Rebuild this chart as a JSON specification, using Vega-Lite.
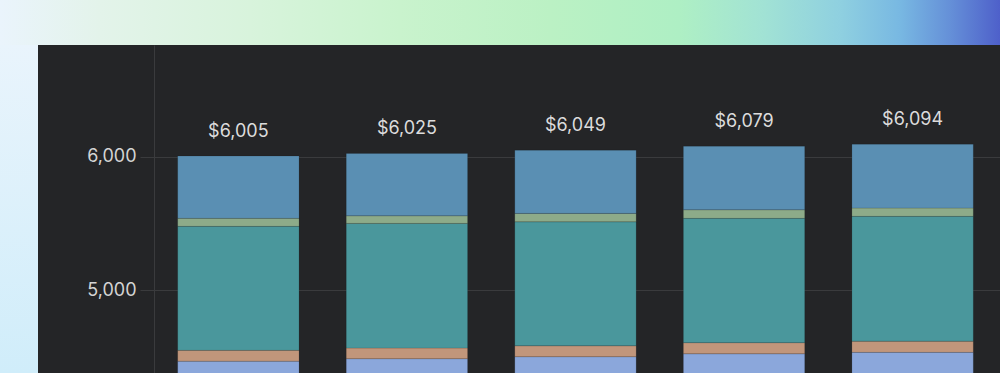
{
  "$schema": "https://vega.github.io/schema/vega-lite/v6.json",
  "background": "#242527",
  "padding": 0,
  "bounds": "flush",
  "spacing": 0,
  "config": {"view": {"stroke": null}, "font": "Inter"},
  "datasets": {
    "costs": [
      {"period": "P1", "segment": "E", "stack_order": 1, "value": 4467},
      {"period": "P1", "segment": "D", "stack_order": 2, "value": 81},
      {"period": "P1", "segment": "C", "stack_order": 3, "value": 930},
      {"period": "P1", "segment": "B", "stack_order": 4, "value": 60},
      {"period": "P1", "segment": "A", "stack_order": 5, "value": 467},
      {"period": "P2", "segment": "E", "stack_order": 1, "value": 4485},
      {"period": "P2", "segment": "D", "stack_order": 2, "value": 80},
      {"period": "P2", "segment": "C", "stack_order": 3, "value": 935},
      {"period": "P2", "segment": "B", "stack_order": 4, "value": 57},
      {"period": "P2", "segment": "A", "stack_order": 5, "value": 468},
      {"period": "P3", "segment": "E", "stack_order": 1, "value": 4500},
      {"period": "P3", "segment": "D", "stack_order": 2, "value": 82},
      {"period": "P3", "segment": "C", "stack_order": 3, "value": 930},
      {"period": "P3", "segment": "B", "stack_order": 4, "value": 63},
      {"period": "P3", "segment": "A", "stack_order": 5, "value": 474},
      {"period": "P4", "segment": "E", "stack_order": 1, "value": 4522},
      {"period": "P4", "segment": "D", "stack_order": 2, "value": 83},
      {"period": "P4", "segment": "C", "stack_order": 3, "value": 933},
      {"period": "P4", "segment": "B", "stack_order": 4, "value": 64},
      {"period": "P4", "segment": "A", "stack_order": 5, "value": 477},
      {"period": "P5", "segment": "E", "stack_order": 1, "value": 4533},
      {"period": "P5", "segment": "D", "stack_order": 2, "value": 84},
      {"period": "P5", "segment": "C", "stack_order": 3, "value": 936},
      {"period": "P5", "segment": "B", "stack_order": 4, "value": 62},
      {"period": "P5", "segment": "A", "stack_order": 5, "value": 479}
    ]
  },
  "vconcat": [
    {
      "width": 1000,
      "height": 45,
      "data": {"values": [{}]},
      "mark": {
        "type": "rect",
        "strokeWidth": 0,
        "color": {
          "gradient": "linear", "x1": 0, "y1": 0, "x2": 1, "y2": 0,
          "stops": [
            {"offset": 0, "color": "#eaf4fc"},
            {"offset": 0.1, "color": "#e3f3ea"},
            {"offset": 0.25, "color": "#d8f3dc"},
            {"offset": 0.4, "color": "#c9f3cd"},
            {"offset": 0.55, "color": "#bbf1c4"},
            {"offset": 0.68, "color": "#aeefc4"},
            {"offset": 0.76, "color": "#a2e3d4"},
            {"offset": 0.84, "color": "#8fd0e0"},
            {"offset": 0.9, "color": "#78b8e2"},
            {"offset": 0.95, "color": "#6590d8"},
            {"offset": 1, "color": "#4e60ca"}
          ]
        }
      },
      "encoding": {}
    },
    {
      "spacing": 116,
      "bounds": "flush",
      "hconcat": [
        {
          "width": 38,
          "height": 328,
          "data": {"values": [{}]},
          "mark": {
            "type": "rect",
            "strokeWidth": 0,
            "color": {
              "gradient": "linear", "x1": 0, "y1": 0, "x2": 0, "y2": 1,
              "stops": [
                {"offset": 0, "color": "#e9f4fc"},
                {"offset": 1, "color": "#d0edfa"}
              ]
            }
          },
          "encoding": {}
        },
        {
          "width": 846,
          "height": 328,
          "data": {"name": "costs"},
          "layer": [
            {
              "mark": {"type": "bar", "clip": true, "stroke": "#000000", "strokeOpacity": 0.12, "strokeWidth": 1},
              "encoding": {
                "x": {
                  "field": "period", "type": "nominal", "axis": null,
                  "scale": {"paddingInner": 0.28, "paddingOuter": 0.1495, "align": 0.47}
                },
                "y": {
                  "field": "value", "type": "quantitative", "stack": "zero",
                  "scale": {"domain": [4378, 6838], "nice": false, "zero": false},
                  "axis": {
                    "values": [5000, 6000], "format": ",d", "title": null,
                    "labelFont": "Inter", "labelFontSize": 18, "labelColor": "#d4d4d4",
                    "labelPadding": 4, "tickSize": 14, "tickColor": "#3a3b3d",
                    "domainColor": "#3a3b3d", "gridColor": "#3a3b3d", "grid": true
                  }
                },
                "color": {
                  "field": "segment", "type": "nominal", "legend": null,
                  "scale": {
                    "domain": ["A", "B", "C", "D", "E"],
                    "range": ["#5a8fb3", "#8dab89", "#4a979c", "#c1967b", "#8ba7db"]
                  }
                },
                "order": {"field": "stack_order", "type": "quantitative"}
              }
            },
            {
              "transform": [
                {"aggregate": [{"op": "sum", "field": "value", "as": "total"}], "groupby": ["period"]}
              ],
              "mark": {"type": "text", "font": "Inter", "fontSize": 18, "color": "#dcdcdc", "baseline": "alphabetic", "dy": -19},
              "encoding": {
                "x": {"field": "period", "type": "nominal"},
                "y": {"field": "total", "type": "quantitative"},
                "text": {"field": "total", "type": "quantitative", "format": "$,.0f"}
              }
            }
          ]
        }
      ]
    }
  ]
}
